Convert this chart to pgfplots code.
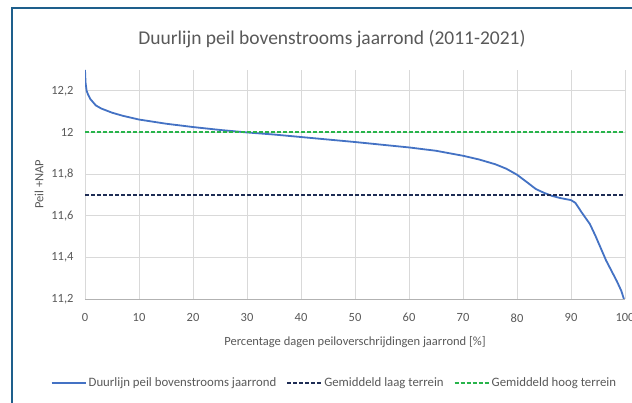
\documentclass[border=0pt]{standalone}
\usepackage{fontspec}
\setmainfont{Carlito}
\usepackage{pgfplots}
\pgfplotsset{compat=1.18}
\definecolor{txtgray}{RGB}{89,89,89}
\definecolor{gridgray}{RGB}{217,217,217}
\definecolor{lineblue}{RGB}{68,114,196}
\definecolor{navy}{RGB}{31,45,85}
\definecolor{dgreen}{RGB}{40,180,75}
\definecolor{frameblue}{RGB}{30,95,140}
\begin{document}
\begin{tikzpicture}[x=1pt,y=1pt]
\useasboundingbox (0,0) rectangle (632,403);
\fill[white] (0,0) rectangle (632,403);
\draw[frameblue, line width=2pt] (12,-5) -- (12,395) -- (640,395);
\node[txtgray, font=\fontsize{19.5}{22}\selectfont] at (332,364) {Duurlijn peil bovenstrooms jaarrond (2011-2021)};
\begin{axis}[
  at={(85pt,104pt)}, anchor=south west,
  scale only axis, width=540pt, height=229pt,
  xmin=0, xmax=100, ymin=11.2, ymax=12.3,
  axis lines*=left,
  y axis line style={draw=none},
  x axis line style={draw=black!30, line width=0.8pt, -},
  xtick={0,10,...,100},
  xticklabels={0,10,20,30,40,50,60,70,80,90,100},
  ytick={11.2,11.4,11.6,11.8,12,12.2},
  yticklabels={{11,2},{11,4},{11,6},{11,8},{12},{12,2}},
  major tick length=0pt,
  grid=major, major grid style={gridgray, line width=0.8pt},
  tick label style={txtgray, font=\fontsize{12.5}{14}\selectfont},
  xticklabel style={yshift=-11pt},
  yticklabel style={xshift=-8pt},
  xlabel={Percentage dagen peiloverschrijdingen jaarrond [\%]},
  xlabel style={txtgray, font=\fontsize{12.5}{14}\selectfont, at={(axis description cs:0.5,-0.19)}, anchor=center},
  ylabel={Peil +NAP},
  ylabel style={txtgray, font=\fontsize{12.5}{14}\selectfont, at={(axis description cs:-0.085,0.5)}, anchor=center, rotate=0},
  legend columns=3,
  legend style={at={(axis description cs:0.462,-0.367)}, anchor=center, draw=none, fill=none,
    font=\fontsize{12.8}{14}\selectfont, text=txtgray,
    /tikz/every even column/.append style={column sep=8pt}},
  legend image code/.code={\draw[#1] (0pt,0pt) -- (34pt,0pt);},
]
\addplot[lineblue, line width=1.8pt, line join=round] coordinates {
(0,12.30) (0.1,12.24) (0.3,12.20) (0.6,12.18) (1,12.16) (2,12.13) (3,12.115)
(5,12.095) (7,12.08) (10,12.062) (15,12.042) (20,12.026) (25,12.012) (30,12.00)
(35,11.99) (40,11.978) (45,11.966) (50,11.954) (55,11.941) (60,11.928) (65,11.912)
(70,11.888) (73,11.87) (76,11.847) (78,11.826) (80,11.797) (82,11.758)
(83.5,11.728) (85,11.71) (86.5,11.695) (88,11.685) (90,11.675) (90.8,11.662)
(92,11.615) (93.5,11.56) (94.5,11.505) (95.5,11.445) (96.5,11.385) (97.5,11.335)
(98.5,11.285) (99.3,11.24) (99.8,11.20)
};
\addlegendentry{Duurlijn peil bovenstrooms jaarrond}
\addplot[navy, line width=2pt, dash pattern=on 4pt off 2pt] coordinates {(0,11.7) (100,11.7)};
\addlegendentry{Gemiddeld laag terrein}
\addplot[dgreen, line width=2pt, dash pattern=on 4pt off 2pt] coordinates {(0,12.0) (100,12.0)};
\addlegendentry{Gemiddeld hoog terrein}
\end{axis}
\end{tikzpicture}
\end{document}
